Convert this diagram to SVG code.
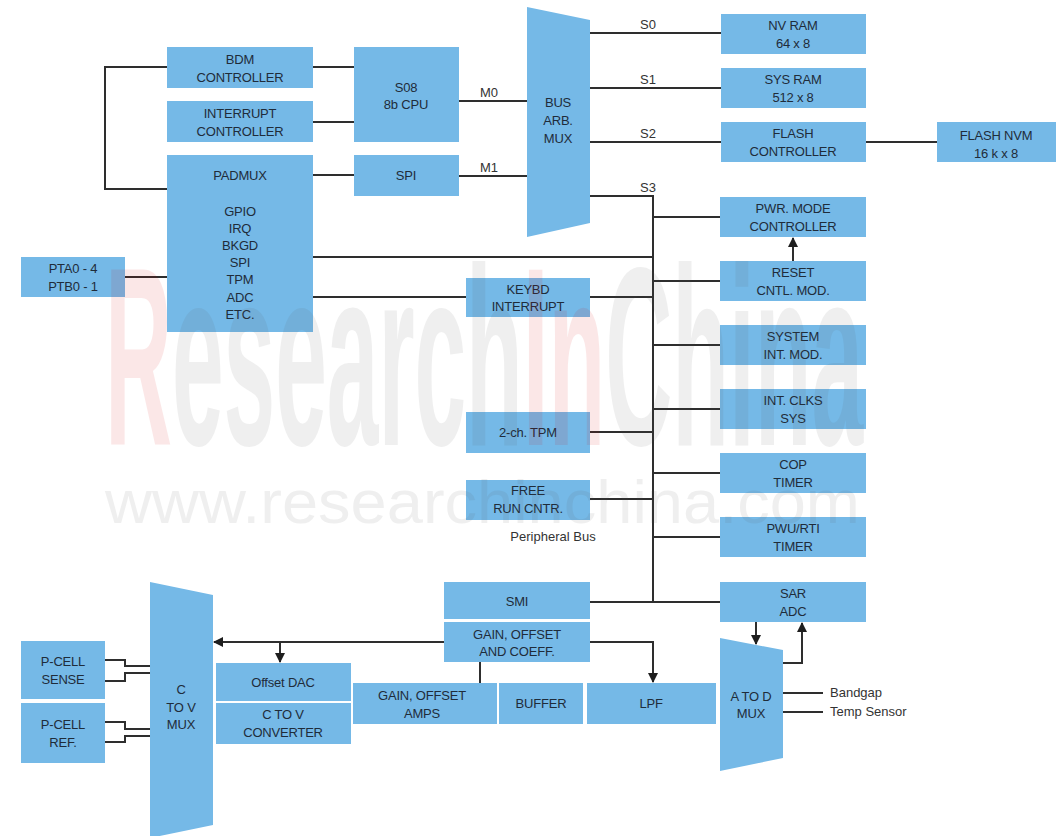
<svg xmlns="http://www.w3.org/2000/svg" width="1056" height="836" viewBox="0 0 1056 836">
<defs>
<style>
.b{fill:#75b9e7;}
.t{font-family:"Liberation Sans",Arial,sans-serif;font-size:13px;fill:#1f2c3a;text-anchor:middle;letter-spacing:-0.2px;}
.l{font-family:"Liberation Sans",Arial,sans-serif;font-size:13px;fill:#333;}
.c{fill:none;stroke:#2e2e2e;stroke-width:2;}
</style>
<marker id="ah" viewBox="0 0 10 10" refX="9" refY="5" markerWidth="5" markerHeight="5" orient="auto" markerUnits="strokeWidth">
<path d="M0,0 L10,5 L0,10 z" fill="#1e1e1e"/>
</marker>
</defs>
<rect width="1056" height="836" fill="#ffffff"/>

<g id="connectors">
<polyline class="c" points="167,67 105,67 105,189 167,189"/>
<line class="c" x1="313" y1="67" x2="354" y2="67"/>
<line class="c" x1="313" y1="122" x2="354" y2="122"/>
<line class="c" x1="313" y1="175" x2="354" y2="175"/>
<line class="c" x1="459" y1="101" x2="528" y2="101"/>
<line class="c" x1="459" y1="176" x2="528" y2="176"/>
<line class="c" x1="590" y1="33" x2="721" y2="33"/>
<line class="c" x1="590" y1="88" x2="721" y2="88"/>
<line class="c" x1="590" y1="142" x2="721" y2="142"/>
<line class="c" x1="866" y1="142" x2="937" y2="142"/>
<polyline class="c" points="590,196 653,196 653,602"/>
<line class="c" x1="653" y1="217" x2="720" y2="217"/>
<line class="c" x1="653" y1="281" x2="720" y2="281"/>
<line class="c" x1="653" y1="345" x2="720" y2="345"/>
<line class="c" x1="653" y1="409" x2="720" y2="409"/>
<line class="c" x1="653" y1="473" x2="720" y2="473"/>
<line class="c" x1="653" y1="537" x2="720" y2="537"/>
<line class="c" x1="793" y1="261" x2="793" y2="238" marker-end="url(#ah)"/>
<line class="c" x1="313" y1="257" x2="653" y2="257"/>
<line class="c" x1="313" y1="297" x2="466" y2="297"/>
<line class="c" x1="590" y1="297" x2="653" y2="297"/>
<line class="c" x1="590" y1="432" x2="653" y2="432"/>
<line class="c" x1="590" y1="499" x2="653" y2="499"/>
<line class="c" x1="125" y1="277" x2="167" y2="277"/>
<line class="c" x1="590" y1="602" x2="720" y2="602"/>
<line class="c" x1="444" y1="642" x2="214" y2="642" marker-end="url(#ah)"/>
<line class="c" x1="280" y1="642" x2="280" y2="662" marker-end="url(#ah)"/>
<polyline class="c" points="590,642 653,642 653,682" marker-end="url(#ah)"/>
<line class="c" x1="480" y1="662" x2="480" y2="683"/>
<line class="c" x1="756" y1="622" x2="756" y2="644" marker-end="url(#ah)"/>
<polyline class="c" points="783,663 802,663 802,623" marker-end="url(#ah)"/>
<line class="c" x1="783" y1="693" x2="823" y2="693"/>
<line class="c" x1="783" y1="712" x2="823" y2="712"/>
<polyline class="c" points="105,660 125,660 125,666 150,666"/>
<polyline class="c" points="105,681 125,681 125,673 150,673"/>
<polyline class="c" points="105,722 125,722 125,729 150,729"/>
<polyline class="c" points="105,742 125,742 125,736 150,736"/>
</g>

<g id="labels">
<text class="l" x="489" y="97" text-anchor="middle">M0</text>
<text class="l" x="489" y="172" text-anchor="middle">M1</text>
<text class="l" x="648" y="29" text-anchor="middle">S0</text>
<text class="l" x="648" y="84" text-anchor="middle">S1</text>
<text class="l" x="648" y="138" text-anchor="middle">S2</text>
<text class="l" x="648" y="192" text-anchor="middle">S3</text>
<text class="l" x="553" y="541" text-anchor="middle">Peripheral Bus</text>
<text class="l" x="830" y="697">Bandgap</text>
<text class="l" x="830" y="716">Temp Sensor</text>
</g>

<g id="bdm"><rect class="b" x="167" y="47" width="146" height="41"/><text class="t" x="240" y="63.5">BDM</text><text class="t" x="240" y="81.5">CONTROLLER</text></g>
<g id="intc"><rect class="b" x="167" y="101" width="146" height="41"/><text class="t" x="240" y="117.5">INTERRUPT</text><text class="t" x="240" y="135.5">CONTROLLER</text></g>
<g id="padmux"><rect class="b" x="167" y="155" width="146" height="177"/>
<text class="t" x="240" y="179.5">PADMUX</text>
<text class="t" x="240" y="215.5">GPIO</text>
<text class="t" x="240" y="232.5">IRQ</text>
<text class="t" x="240" y="249.5">BKGD</text>
<text class="t" x="240" y="266.5">SPI</text>
<text class="t" x="240" y="283.5">TPM</text>
<text class="t" x="240" y="301.5">ADC</text>
<text class="t" x="240" y="318.5">ETC.</text></g>
<g id="pta"><rect class="b" x="21" y="257" width="104" height="40"/><text class="t" x="73" y="272.5">PTA0 - 4</text><text class="t" x="73" y="290.5">PTB0 - 1</text></g>
<g id="cpu"><rect class="b" x="354" y="47" width="105" height="95"/><text class="t" x="406" y="91.5">S08</text><text class="t" x="406" y="108.5">8b CPU</text></g>
<g id="spi"><rect class="b" x="354" y="155" width="105" height="41"/><text class="t" x="406" y="180">SPI</text></g>
<g id="busmux"><polygon class="b" points="527,7 590,20 590,223 527,237"/><text class="t" x="558" y="107">BUS</text><text class="t" x="558" y="125">ARB.</text><text class="t" x="558" y="143">MUX</text></g>
<g id="nvram"><rect class="b" x="721" y="14" width="145" height="40"/><text class="t" x="793" y="30">NV RAM</text><text class="t" x="793" y="48">64 x 8</text></g>
<g id="sysram"><rect class="b" x="721" y="68" width="145" height="40"/><text class="t" x="793" y="84">SYS RAM</text><text class="t" x="793" y="102">512 x 8</text></g>
<g id="flashctl"><rect class="b" x="721" y="122" width="145" height="40"/><text class="t" x="793" y="138">FLASH</text><text class="t" x="793" y="156">CONTROLLER</text></g>
<g id="flashnvm"><rect class="b" x="937" y="122" width="119" height="40"/><text class="t" x="996" y="140">FLASH NVM</text><text class="t" x="996" y="158">16 k x 8</text></g>
<g id="pwr"><rect class="b" x="720" y="197" width="146" height="40"/><text class="t" x="793" y="213">PWR. MODE</text><text class="t" x="793" y="231">CONTROLLER</text></g>
<g id="reset"><rect class="b" x="720" y="261" width="146" height="40"/><text class="t" x="793" y="277">RESET</text><text class="t" x="793" y="295">CNTL. MOD.</text></g>
<g id="sysint"><rect class="b" x="720" y="325" width="146" height="40"/><text class="t" x="793" y="341">SYSTEM</text><text class="t" x="793" y="359">INT. MOD.</text></g>
<g id="clks"><rect class="b" x="720" y="389" width="146" height="40"/><text class="t" x="793" y="405">INT. CLKS</text><text class="t" x="793" y="423">SYS</text></g>
<g id="cop"><rect class="b" x="720" y="453" width="146" height="40"/><text class="t" x="793" y="469">COP</text><text class="t" x="793" y="487">TIMER</text></g>
<g id="pwu"><rect class="b" x="720" y="517" width="146" height="40"/><text class="t" x="793" y="533">PWU/RTI</text><text class="t" x="793" y="551">TIMER</text></g>
<g id="keybd"><rect class="b" x="466" y="278" width="124" height="39"/><text class="t" x="528" y="293.5">KEYBD</text><text class="t" x="528" y="311">INTERRUPT</text></g>
<g id="tpm"><rect class="b" x="466" y="412" width="124" height="41"/><text class="t" x="528" y="437">2-ch. TPM</text></g>
<g id="frc"><rect class="b" x="466" y="480" width="124" height="40"/><text class="t" x="528" y="495">FREE</text><text class="t" x="528" y="513">RUN CNTR.</text></g>
<g id="smi"><rect class="b" x="444" y="582" width="146" height="37"/><text class="t" x="517" y="606">SMI</text></g>
<g id="gaincoeff"><rect class="b" x="444" y="622" width="146" height="40"/><text class="t" x="517" y="639">GAIN, OFFSET</text><text class="t" x="517" y="656">AND COEFF.</text></g>
<g id="sar"><rect class="b" x="720" y="582" width="146" height="40"/><text class="t" x="793" y="598">SAR</text><text class="t" x="793" y="616">ADC</text></g>
<g id="atod"><polygon class="b" points="720,638 783,650 783,758 720,771"/><text class="t" x="751" y="701">A TO D</text><text class="t" x="751" y="718">MUX</text></g>
<g id="gainamps"><rect class="b" x="353" y="683" width="144" height="41"/><text class="t" x="422" y="700">GAIN, OFFSET</text><text class="t" x="422" y="718">AMPS</text></g>
<g id="buffer"><rect class="b" x="499" y="683" width="84" height="41"/><text class="t" x="541" y="708">BUFFER</text></g>
<g id="lpf"><rect class="b" x="587" y="683" width="129" height="41"/><text class="t" x="651" y="708">LPF</text></g>
<g id="offdac"><rect class="b" x="216" y="663" width="135" height="38"/><text class="t" x="283" y="687">Offset DAC</text></g>
<g id="ctov"><rect class="b" x="216" y="703" width="135" height="41"/><text class="t" x="283" y="719">C TO V</text><text class="t" x="283" y="737">CONVERTER</text></g>
<g id="ctovmux"><polygon class="b" points="150,582 213,595 213,825 150,838"/><text class="t" x="181" y="694">C</text><text class="t" x="181" y="712">TO V</text><text class="t" x="181" y="729">MUX</text></g>
<g id="pcellsense"><rect class="b" x="21" y="641" width="84" height="58"/><text class="t" x="63" y="666">P-CELL</text><text class="t" x="63" y="684">SENSE</text></g>
<g id="pcellref"><rect class="b" x="21" y="703" width="84" height="60"/><text class="t" x="63" y="729">P-CELL</text><text class="t" x="63" y="747">REF.</text></g>

<g id="watermark" opacity="0.09" font-family="'Liberation Sans Narrow','Liberation Sans',sans-serif">
<text x="105" y="445" font-size="255" font-weight="bold" textLength="758" lengthAdjust="spacingAndGlyphs" fill="#555"><tspan fill="#d00">R</tspan>esearch<tspan fill="#d00">In</tspan>China</text>
<text x="105" y="523" font-size="62" textLength="755" lengthAdjust="spacingAndGlyphs" fill="#555">www.researchinchina.com</text>
</g>
</svg>
